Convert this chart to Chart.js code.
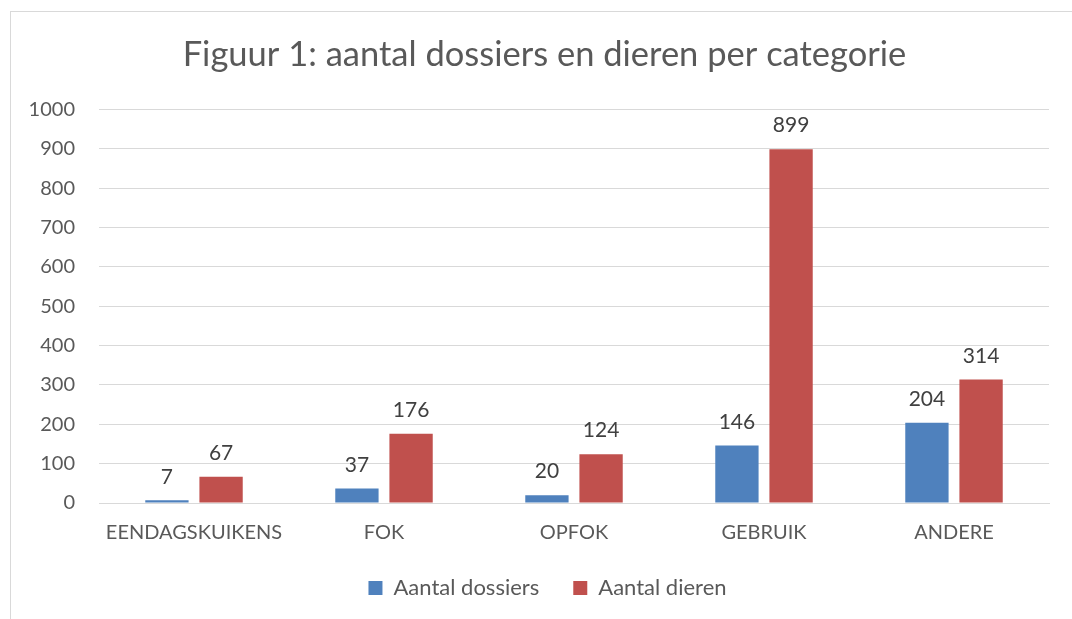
<!DOCTYPE html>
<html>
<head>
<meta charset="utf-8">
<script src="https://cdn.jsdelivr.net/npm/chart.js@4/dist/chart.umd.min.js"></script>
<style>
  html, body { margin: 0; padding: 0; background: #fff; }
  #wrap { position: relative; width: 1072px; height: 619px; overflow: hidden; }
  #frame { position: absolute; left: 10px; top: 11px; width: 1100px; height: 700px;
           border-left: 1px solid #d9d9d9; border-top: 1px solid #d9d9d9; }
  canvas { position: absolute; left: 0; top: 0; }
</style>
</head>
<body>
<div id="wrap">
  <div id="frame"></div>
  <canvas id="chart" width="1072" height="619"></canvas>
</div>
<script>
var categories = ['EENDAGSKUIKENS', 'FOK', 'OPFOK', 'GEBRUIK', 'ANDERE'];
var dossiers = [7, 37, 20, 146, 204];
var dieren = [67, 176, 124, 899, 314];
var seriesNames = ['Aantal dossiers', 'Aantal dieren'];
var yTicks = [0, 100, 200, 300, 400, 500, 600, 700, 800, 900, 1000];

var fontFamily = 'Lato, "Open Sans", sans-serif';

// values above the bars
var valueLabels = {
    id: 'valueLabels',
    afterDatasetsDraw: function (chart) {
        var ctx = chart.ctx;
        ctx.save();
        ctx.font = '21px ' + fontFamily;
        ctx.fillStyle = '#404040';
        ctx.textAlign = 'center';
        ctx.textBaseline = 'bottom';
        chart.data.datasets.forEach(function (ds, i) {
            chart.getDatasetMeta(i).data.forEach(function (bar, j) {
                ctx.fillText(ds.data[j], bar.x, bar.y - 13);
            });
        });
        ctx.restore();
    }
};

// title and legend sit a bit right of the canvas centre in the original
var shiftBlocks = {
    id: 'shiftBlocks',
    afterLayout: function (chart) {
        if (chart.titleBlock) { chart.titleBlock.left += 15; chart.titleBlock.right += 15; }
        if (chart.legend) {
            chart.legend.left += 18; chart.legend.right += 18;
            chart.legend.top -= 2; chart.legend.bottom -= 2;
        }
    }
};

new Chart(document.getElementById('chart').getContext('2d'), {
    type: 'bar',
    data: {
        labels: categories,
        datasets: [
            { label: seriesNames[0], data: dossiers, backgroundColor: '#4f81bd' },
            { label: seriesNames[1], data: dieren, backgroundColor: '#c0504d' }
        ]
    },
    options: {
        responsive: false,
        animation: false,
        categoryPercentage: 0.57,
        barPercentage: 0.8,
        layout: { padding: { left: 10, right: 23, top: 30, bottom: 8 } },
        plugins: {
            title: {
                display: true,
                text: 'Figuur 1: aantal dossiers en dieren per categorie',
                color: '#595959',
                font: { family: fontFamily, size: 34.5, weight: 'normal' },
                padding: { top: 4, bottom: 34 }
            },
            legend: {
                position: 'bottom',
                labels: {
                    color: '#595959',
                    font: { family: fontFamily, size: 22 },
                    boxWidth: 14,
                    boxHeight: 14,
                    padding: 34
                }
            },
            tooltip: { enabled: false }
        },
        scales: {
            x: {
                grid: { display: false },
                border: { color: '#d9d9d9' },
                ticks: { color: '#595959', font: { family: fontFamily, size: 20 }, padding: 10 },
                afterFit: function (s) { s.height = 42; }
            },
            y: {
                min: 0,
                max: 1000,
                afterBuildTicks: function (s) { s.ticks = yTicks.map(function (v) { return { value: v }; }); },
                grid: { color: '#d9d9d9', drawTicks: false },
                border: { display: false },
                ticks: {
                    color: '#595959',
                    font: { family: fontFamily, size: 20 },
                    padding: 24,
                    callback: function (v) { return String(v); }
                },
                afterFit: function (s) { s.width = 89; }
            }
        }
    },
    plugins: [valueLabels, shiftBlocks]
});
</script>
</body>
</html>
